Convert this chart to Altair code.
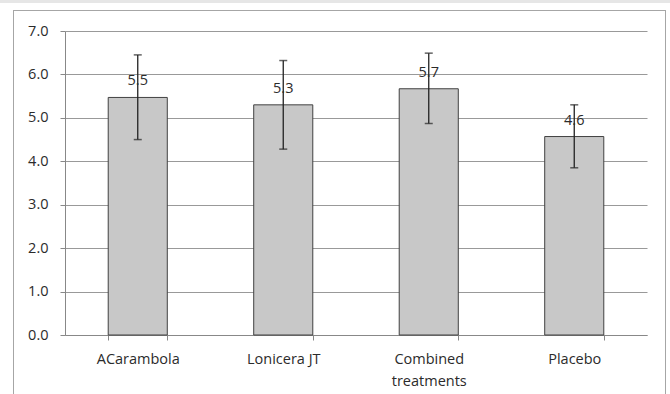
import altair as alt
import pandas as pd

categories = ["ACarambola", "Lonicera JT", "Combined treatments", "Placebo"]
means = [5.47, 5.30, 5.67, 4.57]
err_low = [4.50, 4.28, 4.87, 3.85]
err_high = [6.45, 6.32, 6.49, 5.30]
labels = ["5.5", "5.3", "5.7", "4.6"]

df = pd.DataFrame({"cat": categories, "mean": means, "lo": err_low, "hi": err_high, "lab": labels})

FONT = "Open Sans"
FS = 14.5

xenc = alt.X("cat:N", sort=categories, title=None,
             scale=alt.Scale(paddingInner=0.594, paddingOuter=0.297),
             axis=alt.Axis(labelAngle=0, tickBand="extent", tickSize=5, tickColor="#888888",
                           domainColor="#888888", labelFont=FONT, labelFontSize=FS,
                           labelColor="#2b2b2b", labelPadding=12, labelLineHeight=22,
                           labelBaseline="top",
                           labelExpr="datum.label == 'Combined treatments' ? ['Combined', 'treatments'] : datum.label"))
yenc = alt.Y("mean:Q", title=None,
             scale=alt.Scale(domain=[0, 7], nice=False),
             axis=alt.Axis(values=[0, 1, 2, 3, 4, 5, 6, 7], format=".1f", tickSize=5,
                           tickColor="#888888", domainColor="#888888", gridColor="#999999",
                           gridWidth=1, labelFont=FONT, labelFontSize=FS, labelColor="#2b2b2b",
                           labelPadding=12))

base = alt.Chart(df)

frame_top = base.mark_rect(fill="#e6e6e6", clip=False).encode(
    x=alt.value(-65), x2=alt.value(605), y=alt.value(-31), y2=alt.value(-28))
frame = base.mark_rect(fillOpacity=0, stroke="#a6a6a6", strokeWidth=1, clip=False).encode(
    x=alt.value(-51.5), x2=alt.value(600.5), y=alt.value(-20.5), y2=alt.value(380))

bars = base.mark_bar(fill="#c8c8c8", stroke="#404040", strokeWidth=1).encode(x=xenc, y=yenc)
rule = base.mark_rule(color="#222222", strokeWidth=1.3).encode(
    x=alt.X("cat:N", sort=categories), y="lo:Q", y2="hi:Q")
cap_hi = base.mark_tick(color="#222222", size=8, thickness=1.5).encode(
    x=alt.X("cat:N", sort=categories), y="hi:Q")
cap_lo = base.mark_tick(color="#222222", size=8, thickness=1.5).encode(
    x=alt.X("cat:N", sort=categories), y="lo:Q")
text = base.mark_text(font=FONT, fontSize=FS, color="#2b2b2b", baseline="alphabetic",
                      dy=-12).encode(x=alt.X("cat:N", sort=categories), y="mean:Q", text="lab:N")

chart = alt.layer(bars, frame_top, frame, rule, cap_hi, cap_lo, text).properties(
    width=582, height=304,
    padding={"left": 65, "top": 31, "right": 23, "bottom": 59},
    autosize=alt.AutoSizeParams(type="none"),
    background="white",
).configure_view(stroke=None)

chart.save("out.html", embed_options={"renderer": "svg", "actions": False})
